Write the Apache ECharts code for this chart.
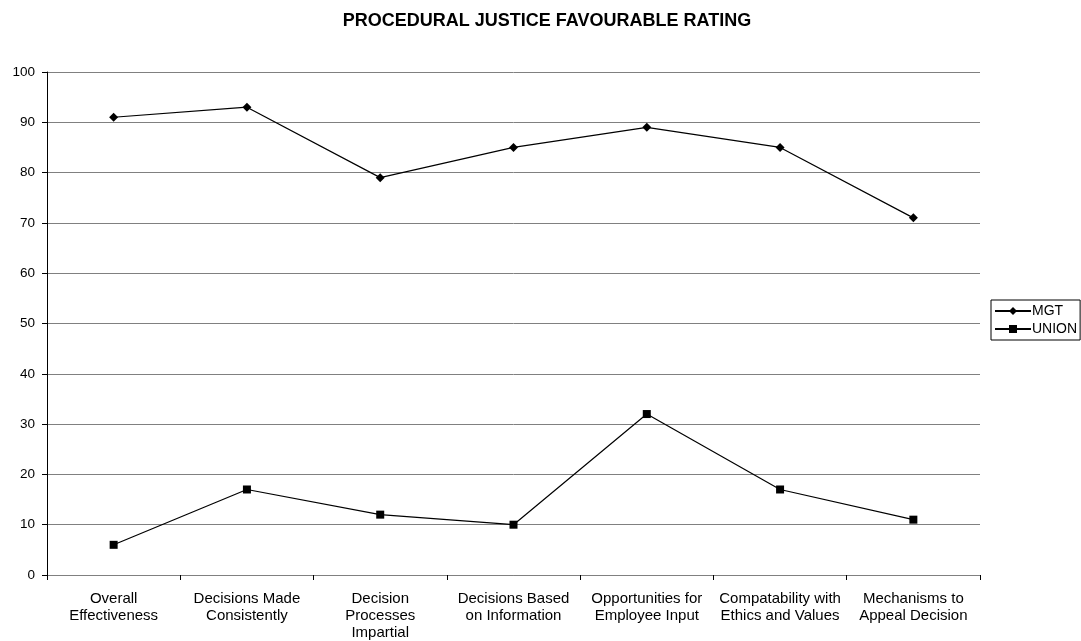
<!DOCTYPE html>
<html><head><meta charset="utf-8">
<script src="https://cdn.jsdelivr.net/npm/echarts@6/dist/echarts.min.js"></script>
<style>html,body{margin:0;padding:0;background:#fff}#c{width:1081px;height:641px}</style>
</head><body><div id="c"></div>
<script>
const categories = ['Overall\nEffectiveness','Decisions Made\nConsistently','Decision\nProcesses\nImpartial','Decisions Based\non Information','Opportunities for\nEmployee Input','Compatability with\nEthics and Values','Mechanisms to\nAppeal Decision'];
const mgt = [91, 93, 79, 85, 89, 85, 71];
const union = [6, 17, 12, 10, 32, 17, 11];
const yTicks = [0,10,20,30,40,50,60,70,80,90,100];

const chart = echarts.init(document.getElementById('c'), null, {renderer:'canvas'});
const font = 'Liberation Sans, Arial, sans-serif';
chart.setOption({
  animation:false,
  backgroundColor:'#fff',
  title:{text:'PROCEDURAL JUSTICE FAVOURABLE RATING', left:542, textAlign:'center', top:7,
    textStyle:{fontFamily:font, fontSize:18, fontWeight:'bold', color:'#000'}},
  legend:{orient:'vertical', left:991, top:300, itemGap:4, itemWidth:36, itemHeight:10,
    borderColor:'#000', borderWidth:1, padding:[4,3,4,3],
    textStyle:{fontFamily:font, fontSize:14, color:'#000', padding:[0,0,0,-4]},
    data:['MGT','UNION']},
  grid:{left:47, right:101, top:72, bottom:65},
  xAxis:{type:'category', data:categories, boundaryGap:true,
    axisLine:{lineStyle:{color:'#808080', width:1}},
    axisTick:{show:true, length:5, lineStyle:{color:'#000'}},
    axisLabel:{interval:0, fontFamily:font, fontSize:15, color:'#000', lineHeight:17, margin:15}},
  yAxis:{type:'value', min:yTicks[0], max:yTicks[yTicks.length-1], interval:10,
    axisLine:{show:true, lineStyle:{color:'#000'}},
    axisTick:{show:true, length:5, lineStyle:{color:'#000'}},
    axisLabel:{fontFamily:font, fontSize:13.5, color:'#000', margin:12},
    splitLine:{lineStyle:{color:'#808080', width:1}}},
  series:[
    {name:'MGT', type:'line', data:mgt, symbol:'diamond', symbolSize:9,
      lineStyle:{color:'#000', width:1.2}, itemStyle:{color:'#000'}},
    {name:'UNION', type:'line', data:union, symbol:'rect', symbolSize:8,
      lineStyle:{color:'#000', width:1.2}, itemStyle:{color:'#000'}}
  ]
});
</script></body></html>
